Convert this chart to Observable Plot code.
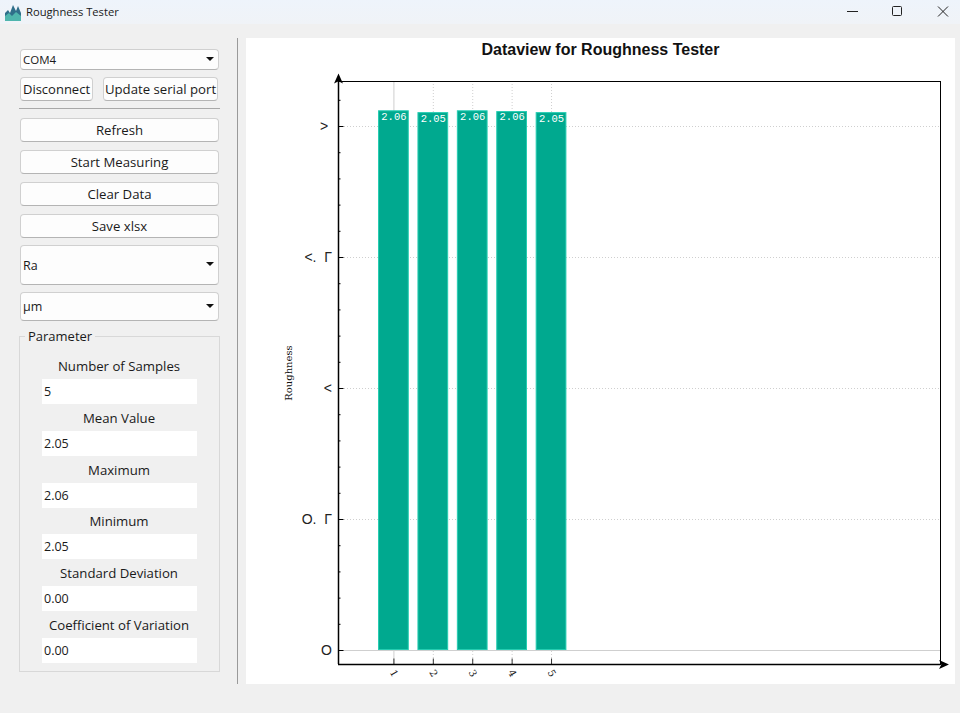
<!DOCTYPE html>
<html><head><meta charset="utf-8">
<script src="https://cdn.jsdelivr.net/npm/d3@7"></script>
<script src="https://cdn.jsdelivr.net/npm/@observablehq/plot@0.6"></script>
<style>
html,body{margin:0;padding:0;width:960px;height:713px;overflow:hidden;background:#f0f0f0;font-family:"Open Sans",sans-serif;color:#1a1a1a;font-size:13.2px}
.a{position:absolute;box-sizing:border-box;white-space:nowrap}
.btn{background:#fdfdfd;border:1px solid #d0d0d0;border-bottom-color:#b4b4b4;border-radius:4px;display:flex;align-items:center;justify-content:center;padding-bottom:1px}
.combo{background:#fdfdfd;border:1px solid #d0d0d0;border-bottom-color:#b4b4b4;border-radius:4px;display:flex;align-items:center;padding-left:2px;font-size:12.5px}
.combo:after{content:"";position:absolute;right:4px;top:50%;margin-top:-3px;border:4px solid transparent;border-top:4.5px solid #111;border-bottom:0}
.lab{left:20px;width:198px;text-align:center;line-height:18px}
.inp{left:42px;width:155px;height:25px;background:#fff;padding-left:2px;line-height:26px;font-size:12.5px}
#title{left:246px;width:709px;top:40px;text-align:center;font:bold 16px "Liberation Sans",Arial,sans-serif;color:#111;line-height:20px;z-index:2}
#chart{position:absolute;left:246px;top:38px;width:709px;height:646px;background:#fff}
#chart svg{display:block;overflow:visible}
</style></head><body>
<div class="a" style="left:0;top:0;width:960px;height:24px;background:linear-gradient(#eef4fb,#f0f3f7)"></div>
<svg class="a" style="left:5px;top:4px" width="16" height="17" viewBox="0 0 16 17"><path d="M0 17V9l3-3 2 3 3-8 3 6 2-5 3 7v8z" fill="#2f6f8a"/><path d="M0 17V12l4-3 3 3 4-4 5 4v5z" fill="#4fb5ad"/></svg>
<div class="a" style="left:26px;top:3px;line-height:18px;font-size:11.2px">Roughness Tester</div>
<svg class="a" style="left:840px;top:0" width="120" height="24" fill="none" stroke="#222" stroke-width="1"><path d="M7 11.5H18"/><rect x="52.5" y="6.5" width="9" height="9" rx="1"/><path d="M98 6.5 L108 16.5 M108 6.5 L98 16.5"/></svg>

<div class="a combo" style="left:20px;top:49px;width:199px;height:21px;font-size:11.5px">COM4</div>
<div class="a btn" style="left:20px;top:77px;width:73px;height:24px;font-size:13px">Disconnect</div>
<div class="a btn" style="left:103px;top:77px;width:115px;height:24px">Update serial port</div>
<div class="a" style="left:19px;top:108px;width:201px;height:1px;background:#a8a8a8"></div>
<div class="a btn" style="left:20px;top:118px;width:199px;height:24px">Refresh</div>
<div class="a btn" style="left:20px;top:150px;width:199px;height:24px">Start Measuring</div>
<div class="a btn" style="left:20px;top:182px;width:199px;height:24px">Clear Data</div>
<div class="a btn" style="left:20px;top:214px;width:199px;height:24px">Save xlsx</div>
<div class="a combo" style="left:20px;top:245px;width:199px;height:40px">Ra</div>
<div class="a combo" style="left:20px;top:292px;width:199px;height:29px">µm</div>
<div class="a" style="left:19px;top:336px;width:201px;height:336px;border:1px solid #d8d8d8"></div>
<div class="a" style="left:25px;top:327px;padding:0 3px;background:#f0f0f0;line-height:18px;font-size:13px">Parameter</div>
<div class="a lab" style="top:357px">Number of Samples</div><div class="a inp" style="top:379px">5</div>
<div class="a lab" style="top:409px">Mean Value</div><div class="a inp" style="top:431px">2.05</div>
<div class="a lab" style="top:461px">Maximum</div><div class="a inp" style="top:483px">2.06</div>
<div class="a lab" style="top:512px">Minimum</div><div class="a inp" style="top:534px">2.05</div>
<div class="a lab" style="top:564px">Standard Deviation</div><div class="a inp" style="top:586px">0.00</div>
<div class="a lab" style="top:616px">Coefficient of Variation</div><div class="a inp" style="top:638px">0.00</div>
<div class="a" style="left:237px;top:38px;width:1px;height:646px;background:#9a9a9a"></div>

<div id="chart"></div>
<div class="a" id="title">Dataview for Roughness Tester</div>

<script>
const samples = [1, 2, 3, 4, 5];
const roughness = [2.06, 2.053, 2.06, 2.057, 2.053];
const yTicks = [0, 0.5, 1, 1.5, 2];
const yTickLabels = ["O", "O.\u00a0\u00a0\u0393", "<", "<.\u00a0\u00a0\u0393", ">\u00a0"];
const yMinorTicks = [0.1, 0.2, 0.3, 0.4, 0.6, 0.7, 0.8, 0.9, 1.1, 1.2, 1.3, 1.4, 1.6, 1.7, 1.8, 1.9, 2.1];
const xDomain = [-0.406, 14.87];
const yDomain = [-0.0534, 2.1718];
const barHalfWidth = 0.39;
const barFill = "#00a98f";
const barEdge = "#25cdb2";
const gridColor = "#cfcfcf";

const rows = samples.map((s, i) => ({sample: s, value: roughness[i]}));
const arrowHead = {draw(ctx, size) {
  const r = Math.sqrt(size);
  ctx.moveTo(0, -r);
  ctx.lineTo(r * 0.9, r);
  ctx.lineTo(0, r * 0.55);
  ctx.lineTo(-r * 0.9, r);
  ctx.closePath();
}};

const chart = Plot.plot({
  width: 709, height: 646,
  marginLeft: 92, marginRight: 15, marginTop: 43, marginBottom: 20,
  style: {background: "transparent", fontFamily: "'Liberation Sans',sans-serif", fontSize: "14px", color: "#111"},
  x: {domain: xDomain, axis: null},
  y: {domain: yDomain, axis: null},
  marks: [
    Plot.ruleY(yTicks.slice(1), {stroke: gridColor, strokeWidth: 1, strokeDasharray: "1,2"}),
    Plot.ruleX(samples.slice(1), {stroke: gridColor, strokeWidth: 1, strokeDasharray: "1,2"}),
    Plot.ruleX(samples.slice(0, 1), {stroke: gridColor, strokeWidth: 1}),
    Plot.ruleY([0], {stroke: gridColor, strokeWidth: 1.2}),
    Plot.rectY(rows, {
      x1: d => d.sample - barHalfWidth, x2: d => d.sample + barHalfWidth,
      y1: 0, y2: "value", fill: barFill, stroke: barEdge, strokeWidth: 1, inset: 0.5
    }),
    Plot.text(rows, {
      x: "sample", y: "value", text: d => d.value.toFixed(2), dy: 5.5,
      fill: "#fff", fontSize: 10.5, fontFamily: "'Liberation Mono',monospace", lineAnchor: "middle"
    }),
    Plot.frame({stroke: "#000", strokeWidth: 1}),
    Plot.axisY({ticks: yMinorTicks, tickSize: -2.5, tickFormat: () => "", label: null, stroke: "#000", strokeOpacity: 1}),
    Plot.axisY({ticks: yTicks, tickSize: -5.5, tickPadding: 12, label: null,
      tickFormat: d => yTickLabels[yTicks.indexOf(d)], fontSize: 14, stroke: "#000", strokeOpacity: 1, fill: "#222"}),
    Plot.axisX({ticks: samples, tickSize: -5.5, tickFormat: () => "", label: null, stroke: "#333", strokeOpacity: 1}),
    Plot.text(samples, {
      x: d => d, frameAnchor: "bottom", dy: 9, rotate: 60, text: d => String(d),
      fontSize: 10, fontFamily: "'DejaVu Serif',serif", fill: "#222", lineAnchor: "middle"
    }),
    Plot.ruleX([xDomain[0]], {stroke: "#000", strokeWidth: 1.5}),
    Plot.ruleY([yDomain[0]], {stroke: "#000", strokeWidth: 1.5}),
    Plot.dot([0], {x: () => xDomain[0], y: () => yDomain[1], dy: -3, r: 2.8, symbol: arrowHead, fill: "#000", stroke: "none"}),
    Plot.dot([0], {x: () => xDomain[1], y: () => yDomain[0], dx: 3.5, r: 2.8, symbol: arrowHead, rotate: 90, fill: "#000", stroke: "none"}),
    Plot.text(["Roughness"], {
      frameAnchor: "left", dx: -50, rotate: -90, text: d => d, textAnchor: "middle",
      fontSize: 10, fontFamily: "'DejaVu Serif',serif", fill: "#111", lineAnchor: "middle"
    })
  ]
});
document.getElementById("chart").appendChild(chart);
</script>
</body></html>
